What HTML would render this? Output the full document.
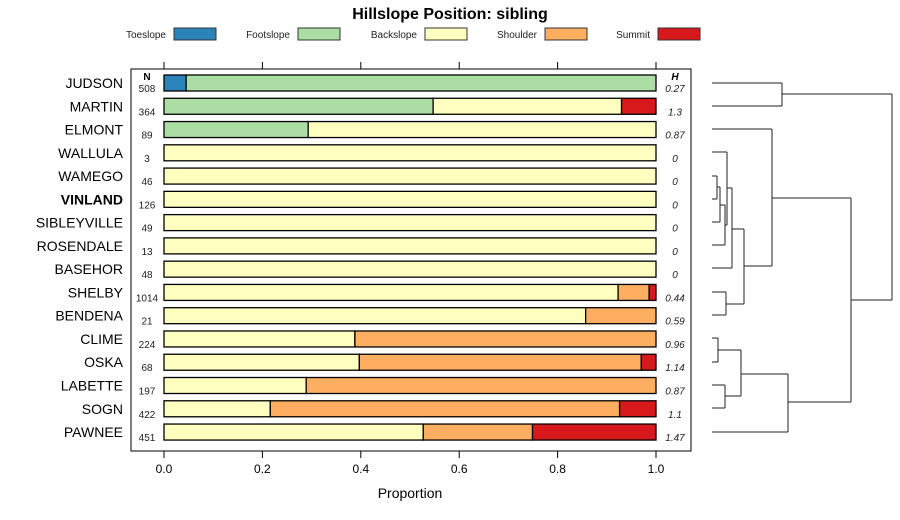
<!DOCTYPE html>
<html><head><meta charset="utf-8"><style>
body{margin:0;background:#fff;}
svg{display:block;font-family:"Liberation Sans",sans-serif;}
</style></head><body>
<svg id="chart" width="900" height="520" xmlns="http://www.w3.org/2000/svg">
<text x="450" y="19" text-anchor="middle" font-size="16" font-weight="bold">Hillslope Position: sibling</text>
<g id="legend"></g>
<rect x="131" y="69" width="560" height="382" fill="none" stroke="#000" stroke-width="1"/>
<g id="bars"></g>
<g id="axis"></g>
<text x="410" y="498" text-anchor="middle" font-size="14">Proportion</text>
<text x="147" y="80" text-anchor="middle" font-size="10" font-weight="bold">N</text>
<text x="675" y="80" text-anchor="middle" font-size="10" font-weight="bold" font-style="italic">H</text>
<g id="dendro" fill="none" stroke="#222" stroke-width="1">
<path d="M712 83H782M712 106H782M782 83V106M782 94H892"/>
<path d="M712 129H772M712 152H727"/>
<path d="M712 176H717M712 199H717M717 176V199M717 187H720M712 222H720M720 187V222M720 205H725M712 245H725M725 205V245M725 225H727M727 152V225M727 188H732M712 268H732M732 188V268M732 229H744"/>
<path d="M712 292H726M712 315H726M726 292V315M726 304H744M744 229V304M744 266H772M772 129V266M772 198H851"/>
<path d="M712 338H718M712 362H718M718 338V362M718 350H741M712 385H725M712 408H725M725 385V408M725 396H741M741 350V396M741 374H788M712 432H788M788 374V432M788 402H851M851 198V402M851 300H892M892 94V300"/>
</g>
</svg>
<script>
const soils=["JUDSON","MARTIN","ELMONT","WALLULA","WAMEGO","VINLAND","SIBLEYVILLE","ROSENDALE","BASEHOR","SHELBY","BENDENA","CLIME","OSKA","LABETTE","SOGN","PAWNEE"];
const nVals=[508,364,89,3,46,126,49,13,48,1014,21,224,68,197,422,451];
const hVals=["0.27","1.3","0.87","0","0","0","0","0","0","0.44","0.59","0.96","1.14","0.87","1.1","1.47"];
const classes=["Toeslope","Footslope","Backslope","Shoulder","Summit"];
const colors=["#2b83ba","#abdda4","#ffffbf","#fdae61","#d7191c"];
const toeslope=[0.045,0,0,0,0,0,0,0,0,0,0,0,0,0,0,0];
const footslope=[0.955,0.547,0.293,0,0,0,0,0,0,0,0,0,0,0,0,0];
const backslope=[0,0.383,0.707,1,1,1,1,1,1,0.923,0.857,0.388,0.397,0.289,0.216,0.527];
const shoulder=[0,0,0,0,0,0,0,0,0,0.063,0.143,0.612,0.573,0.711,0.71,0.222];
const summit=[0,0.07,0,0,0,0,0,0,0,0.014,0,0,0.03,0,0.074,0.251];
const ticks=[0,0.2,0.4,0.6,0.8,1.0];
const tickLabels=["0.0","0.2","0.4","0.6","0.8","1.0"];
const series=[toeslope,footslope,backslope,shoulder,summit];
const NS="http://www.w3.org/2000/svg";
const xS=v=>164+v*492;
const yS=i=>83+i*23.27;
function mk(tag,attrs,parent,txt){const e=document.createElementNS(NS,tag);for(const k in attrs)e.setAttribute(k,attrs[k]);if(txt!==undefined)e.textContent=txt;parent.appendChild(e);return e;}
const bars=document.getElementById('bars');
soils.forEach((s,i)=>{
  const y=yS(i);
  const lab=mk('text',{x:123,y:y+5,'text-anchor':'end','font-size':14,'font-weight':s==="VINLAND"?'bold':'normal'},bars,s);
  
  
  let cum=0;
  series.forEach((ser,k)=>{
    const v=ser[i];
    if(v>0){
      const r=mk('rect',{x:xS(cum),y:y-8,width:xS(cum+v)-xS(cum),height:16,fill:colors[k],stroke:'#000','stroke-width':1.3},bars);
      
      
    }
    cum+=v;
  });
  const nt=mk('text',{x:147,y:y+9,'text-anchor':'middle','font-size':10,fill:'#222'},bars,String(nVals[i]));
  
  
  const ht=mk('text',{x:675,y:y+9,'text-anchor':'middle','font-size':10,'font-style':'italic',fill:'#222'},bars,hVals[i]);
  
  
});
const ax=document.getElementById('axis');
ticks.forEach((t,i)=>{
  const x=xS(t);
  mk('line',{x1:x,x2:x,y1:451,y2:458,stroke:'#000'},ax);
  mk('line',{x1:x,x2:x,y1:62,y2:69,stroke:'#000'},ax);
  const tl=mk('text',{x:x,y:473,'text-anchor':'middle','font-size':12},ax,tickLabels[i]);
  
  
});
const lg=document.getElementById('legend');
const lgBox=[174,298,425,545,658];
classes.forEach((c,k)=>{
  const g=mk('g',{},lg);
  
  
  mk('text',{x:lgBox[k]-8,y:38,'text-anchor':'end','font-size':10,fill:'#222'},g,c);
  mk('rect',{x:lgBox[k],y:28,width:42,height:12,fill:colors[k],stroke:'#333'},g);
});
</script>
</body></html>
